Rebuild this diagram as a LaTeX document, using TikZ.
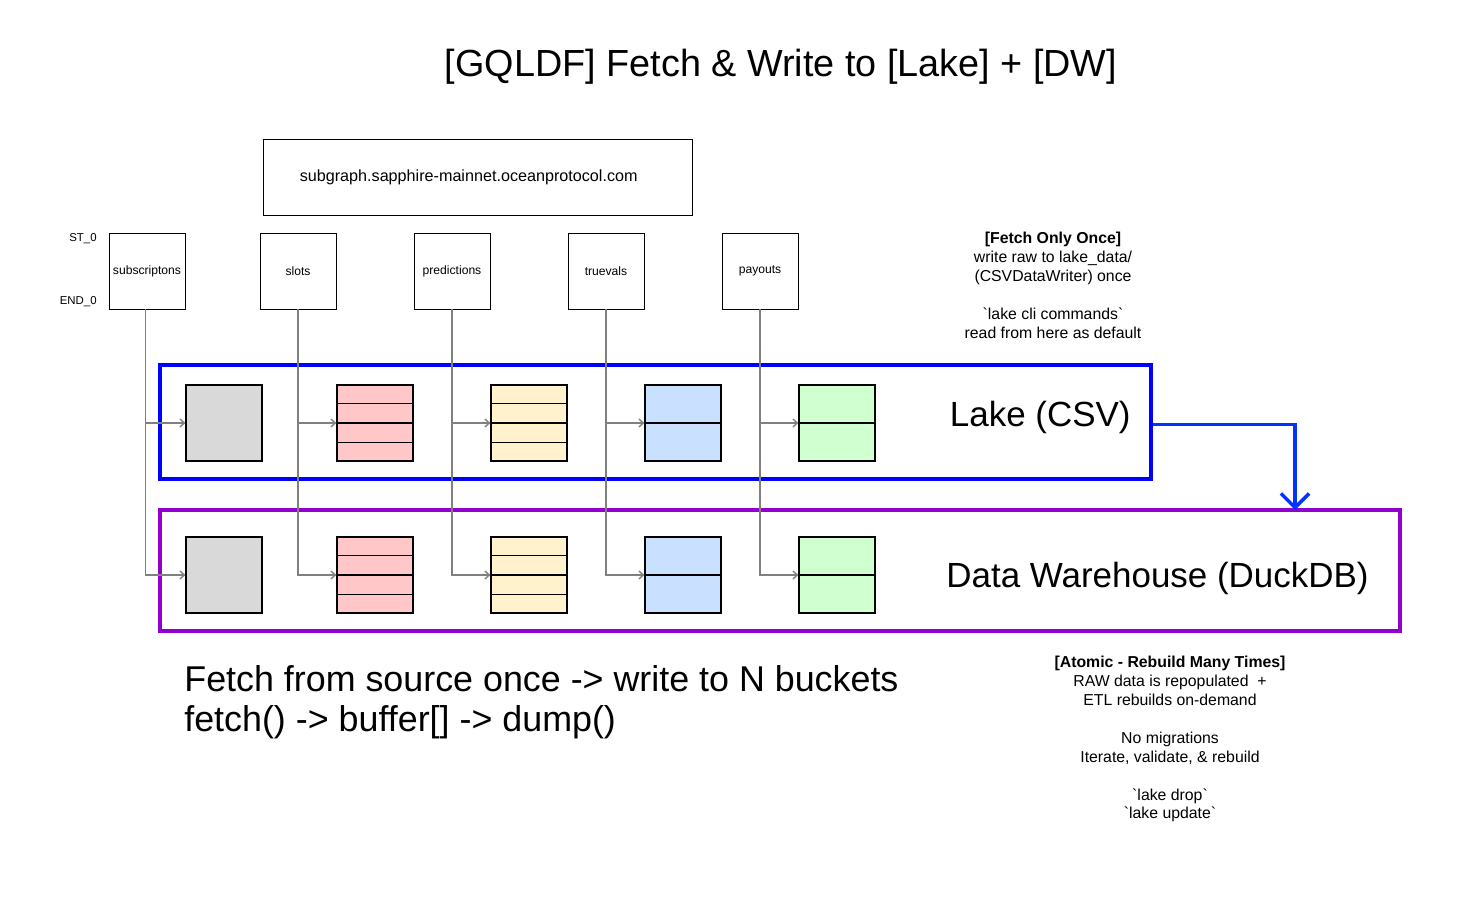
\documentclass[tikz,border=0pt]{standalone}
\usepackage{fontspec}
\setmainfont{Liberation Sans}
\usepackage{tikz}
\usetikzlibrary{positioning,arrows.meta,calc}

\definecolor{bktGray}{HTML}{D9D9D9}
\definecolor{bktPink}{HTML}{FFC7C7}
\definecolor{bktYellow}{HTML}{FFF2CC}
\definecolor{bktBlue}{HTML}{CAE0FF}
\definecolor{bktGreen}{HTML}{D0FFD0}
\definecolor{lakeBlue}{HTML}{0000FF}
\definecolor{dwPurple}{HTML}{9100CC}
\definecolor{flowBlue}{HTML}{0033FF}

% separator lines inside a bucket: node, number of rows
\newcommand{\bucketrows}[2]{%
  \foreach \i in {1,...,\numexpr#2-1\relax}
    \draw[line width=0.7pt] ($(#1.north west)!\i/#2!(#1.south west)$) -- ($(#1.north east)!\i/#2!(#1.south east)$);}
\newcommand{\cmd}[1]{\textasciigrave#1\textasciigrave}

\begin{document}
\begin{tikzpicture}[
  x=0.02cm, y=-0.02cm,
  src/.style={draw, line width=0.5pt, minimum width=1.52cm, minimum height=1.52cm,
              inner sep=0pt, font=\fontsize{6.9}{8}\selectfont},
  bkt/.style={draw, line width=0.7pt, minimum width=1.52cm, minimum height=1.52cm, inner sep=0pt},
  arr/.style={-{Straight Barb[length=2.5pt,width=4.5pt]}, line width=0.8pt, color=black!50},
  zone/.style={draw, line width=2.3pt, inner sep=0pt},
  note/.style={align=center, font=\fontsize{9}{10.8}\selectfont},
  big/.style={font=\fontsize{19.9}{22.7}\selectfont, inner sep=0pt},
  tag/.style={font=\fontsize{6.5}{8}\selectfont, anchor=east, inner sep=0pt},
]
\useasboundingbox (0,0) rectangle (1463,901);

\node[font=\fontsize{21.5}{24}\selectfont] (title) at (781,67) {[GQLDF] Fetch \& Write to [Lake] + [DW]};
\node[draw, line width=0.5pt, minimum width=8.58cm, minimum height=1.52cm,
      font=\fontsize{9.2}{10}\selectfont] (graph) at (477.5,177)
      {\hspace*{-10pt}subgraph.sapphire-mainnet.oceanprotocol.com};

% source tables
\node[src] (sub)   at (147,271) {subscriptons};
\node[src] (slots) at (298,271) {slots};
\node[src] (pred)  at (452,271) {predictions};
\node[src] (truev) at (606,271) {truevals};
\node[src] (pay)   at (760,271) {payouts};
\node[tag] (st)  at (97,239) {ST\_0};
\node[tag] (end) at (97,302) {END\_0};

% lake + warehouse zones
\node[zone, draw=lakeBlue, minimum width=19.82cm, minimum height=2.28cm] (lake) at (655.5,422) {};
\node[zone, draw=dwPurple, minimum width=24.8cm, minimum height=2.42cm] (dw) at (780,570.5) {};
\node[big, anchor=east] (lakelbl) at (1131,417) {Lake (CSV)};
\node[big, anchor=east] (dwlbl)   at (1369,578) {Data Warehouse (DuckDB)};

% buckets
\node[bkt, fill=bktGray]   (lsub)   at (224,423) {};
\node[bkt, fill=bktPink]   (lslots) at (375,423) {};
\node[bkt, fill=bktYellow] (lpred)  at (529,423) {};
\node[bkt, fill=bktBlue]   (ltruev) at (683,423) {};
\node[bkt, fill=bktGreen]  (lpay)   at (837,423) {};
\node[bkt, fill=bktGray]   (dsub)   at (224,575) {};
\node[bkt, fill=bktPink]   (dslots) at (375,575) {};
\node[bkt, fill=bktYellow] (dpred)  at (529,575) {};
\node[bkt, fill=bktBlue]   (dtruev) at (683,575) {};
\node[bkt, fill=bktGreen]  (dpay)   at (837,575) {};
\bucketrows{lslots}{4}
\bucketrows{lpred}{4}
\bucketrows{ltruev}{2}
\bucketrows{lpay}{2}
\bucketrows{dslots}{4}
\bucketrows{dpred}{4}
\bucketrows{dtruev}{2}
\bucketrows{dpay}{2}

% fetch once, write to both
\draw[arr] ([xshift=-1pt]sub.south) |- (lsub.west);
\draw[arr] ([xshift=-1pt]sub.south) |- (dsub.west);
\draw[arr] (slots.south) |- (lslots.west);
\draw[arr] (slots.south) |- (dslots.west);
\draw[arr] (pred.south)  |- (lpred.west);
\draw[arr] (pred.south)  |- (dpred.west);
\draw[arr] (truev.south) |- (ltruev.west);
\draw[arr] (truev.south) |- (dtruev.west);
\draw[arr] (pay.south)   |- (lpay.west);
\draw[arr] (pay.south)   |- (dpay.west);

\coordinate (drop) at (1295,510);
\draw[flowBlue, line width=2pt, -{Straight Barb[length=8pt,width=16pt]}]
  ([yshift=-1.5pt]lake.east) -| (drop);

\node[big, font=\fontsize{20.4}{22.7}\selectfont, anchor=west, align=left] (howto) at (184,702)
  {Fetch from source once -> write to N buckets\\fetch() -> buffer[] -> dump()};

\node[note] (once) at (1053,285)
  {\textbf{[Fetch Only Once]}\\write raw to lake\_data/\\(CSVDataWriter) once\\[10.8pt]\cmd{lake cli commands}\\read from here as default};
\node[note] (atomic) at (1170,739)
  {\textbf{[Atomic - Rebuild Many Times]}\\RAW data is repopulated\ \ +\\ETL rebuilds on-demand\\[10.8pt]No migrations\\Iterate, validate, \& rebuild\\[10.8pt]\cmd{lake drop}\\\cmd{lake update}};
\end{tikzpicture}
\end{document}
